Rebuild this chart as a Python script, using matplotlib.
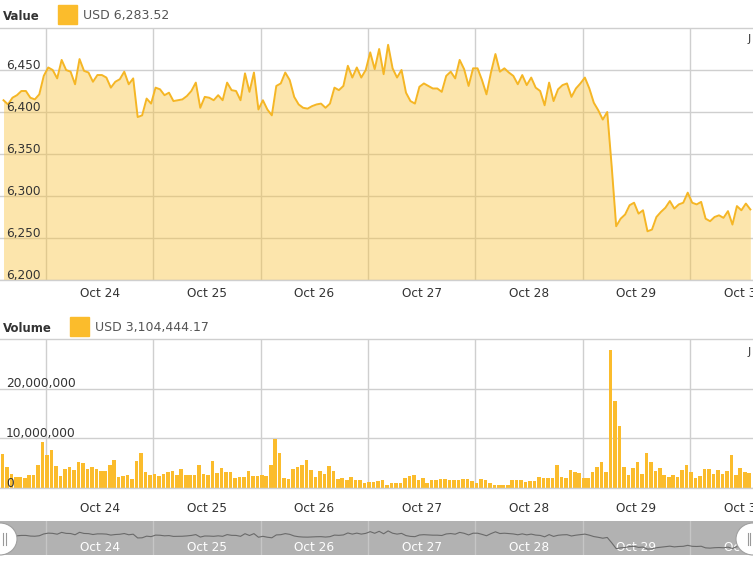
import numpy as np
import pandas as pd
import matplotlib
matplotlib.use("Agg")
import matplotlib.pyplot as plt
import matplotlib.dates as mdates
from matplotlib.patches import Rectangle, Ellipse
from matplotlib.lines import Line2D
from matplotlib.ticker import NullFormatter

# hourly BTC price (USD), Oct 23 14:30 -> Oct 30 13:30
price = [6414, 6409, 6417, 6420, 6425, 6425, 6417, 6415, 6421, 6443, 6453, 6450, 6440, 6462, 6450,
         6448, 6433, 6463, 6449, 6447, 6436, 6444, 6444, 6441, 6429, 6436, 6439, 6448, 6433, 6440,
         6394, 6396, 6416, 6410, 6429, 6427, 6420, 6423, 6413, 6414, 6415, 6419, 6425,
         6435, 6405, 6418, 6417, 6414, 6420, 6414, 6435, 6426, 6425, 6414, 6446, 6424, 6447, 6403,
         6414, 6403, 6396, 6431, 6434, 6447, 6438, 6418, 6409, 6405, 6404, 6407, 6409, 6410, 6405,
         6410, 6429, 6426, 6431, 6455, 6441, 6453, 6441, 6450, 6471, 6451,
         6475, 6445, 6480, 6452, 6441, 6450, 6423, 6413, 6410, 6430, 6434, 6431, 6428, 6428, 6424,
         6443, 6448, 6440, 6462, 6451, 6431, 6452, 6452, 6438, 6421, 6447, 6469, 6448, 6452, 6447,
         6443, 6433, 6444, 6432, 6441, 6429, 6425, 6408, 6435, 6413, 6427, 6432, 6434,
         6418, 6428, 6434, 6441, 6428, 6411, 6402, 6391, 6400, 6335, 6264,
         6273, 6278, 6289, 6292, 6279, 6283, 6258, 6260, 6275, 6281, 6286, 6294, 6285, 6290, 6292,
         6304, 6292, 6290, 6293, 6273, 6270, 6275, 6277, 6274, 6282, 6266, 6288, 6283, 6291, 6284]

# hourly volume, millions of USD
volume = [6.8, 4.3, 2.9, 2.2, 2.2, 2.0, 2.7, 2.7, 4.6, 9.3, 6.6, 7.6, 4.5, 2.4, 3.9, 4.3, 3.6, 5.3,
          5.1, 3.9, 4.3, 3.8, 3.4, 3.4, 4.7, 5.6, 2.2, 2.4, 2.6, 1.9, 5.5, 7.1, 3.2, 2.6, 2.9, 2.4,
          2.9, 3.2, 3.4, 2.7, 3.9, 2.6,
          2.6, 2.6, 4.6, 2.9, 2.7, 5.5, 3.1, 4.1, 3.2, 3.2, 2.0, 2.2, 2.2, 3.4, 2.4, 2.4, 2.6, 2.4,
          4.7, 9.9, 7.0, 2.0, 1.9, 3.9, 4.3, 4.7, 5.7, 3.7, 2.2, 3.4, 2.9, 4.5, 3.4, 1.9, 2.1, 1.6,
          2.2, 1.6, 1.6, 1.0, 1.2, 1.2,
          1.4, 1.7, 0.7, 1.1, 1.1, 1.1, 2.0, 2.4, 2.6, 1.6, 2.1, 1.1, 1.7, 1.7, 1.9, 1.9, 1.6, 1.6,
          1.6, 1.8, 1.9, 1.5, 1.1, 1.9, 1.6, 1.1, 0.7, 0.7, 0.7, 0.7, 1.6, 1.6, 1.6, 1.2, 1.4, 1.4,
          2.2, 2.1, 2.0, 2.0, 4.6, 2.2,
          2.1, 3.7, 3.2, 3.0, 2.1, 2.1, 3.2, 4.3, 5.3, 3.2, 27.8, 17.6, 12.4, 4.3, 2.6, 4.1, 5.3, 2.9,
          7.1, 5.3, 3.4, 4.1, 2.6, 2.2, 2.7, 2.2, 3.7, 4.6, 3.2, 2.1, 2.5, 3.9, 3.9, 2.8, 3.7, 2.9,
          3.4, 6.6, 2.7, 4.1, 3.2, 3.1]

price_ticks = [6200, 6250, 6300, 6350, 6400, 6450]
volume_ticks = [0, 10_000_000, 20_000_000]
last_price = "USD 6,283.52"
last_volume = "USD 3,104,444.17"

times = pd.date_range("2018-10-23 14:30", periods=len(price), freq="h")
t = mdates.date2num(times.to_pydatetime())
vol = np.array(volume) * 1e6

LINE = "#f5b625"
BAR = "#fbbc2c"
GRID = "#cfcfcf"
TXT = "#333333"

W, H = 753, 562
fig = plt.figure(figsize=(W / 100, H / 100), dpi=100)


def box(x0, y0, x1, y1):
    return [x0 / W, 1 - y1 / H, (x1 - x0) / W, (y1 - y0) / H]


midnight = pd.Timestamp("2018-10-24")
px_h = 4.472
xmin = mdates.date2num((midnight - pd.Timedelta(hours=46 / px_h)).to_pydatetime())
xmax = mdates.date2num((midnight + pd.Timedelta(hours=(W - 46) / px_h)).to_pydatetime())


def style_time(ax, pad, color=TXT, gridcolor=GRID):
    ax.set_xlim(xmin, xmax)
    ax.xaxis.set_major_locator(mdates.DayLocator())
    ax.xaxis.set_major_formatter(NullFormatter())
    ax.xaxis.set_minor_locator(mdates.HourLocator(byhour=12))
    ax.xaxis.set_minor_formatter(mdates.DateFormatter("%b %d"))
    ax.tick_params(axis="x", which="both", length=0)
    ax.tick_params(axis="x", which="minor", pad=pad, labelsize=8.7, labelcolor=color)
    ax.grid(True, axis="x", which="major", color=gridcolor, lw=1)
    ax.set_yticks([])


def style_panel(ax):
    for s in ("left", "right"):
        ax.spines[s].set_visible(False)
    for s in ("top", "bottom"):
        ax.spines[s].set_color(GRID)
        ax.spines[s].set_linewidth(1)
    ax.set_axisbelow(True)


# price panel
ax1 = fig.add_axes(box(0, 28, W, 280))
style_panel(ax1)
style_time(ax1, pad=5)
ax1.set_ylim(6200, 6500)
ax1.set_yticks(price_ticks)
ax1.tick_params(axis="y", length=0, labelleft=False)
ax1.grid(True, axis="y", color=GRID, lw=1)
ax1.fill_between(t, price, 6200, color="#f8c13a", alpha=0.42, lw=0, zorder=2)
ax1.plot(t, price, color=LINE, lw=1.4, zorder=3)
for v in price_ticks:
    ax1.annotate(f"{v:,}", xy=(0, v), xycoords=("axes fraction", "data"),
                 xytext=(4.3, 1), textcoords="offset points", va="baseline",
                 fontsize=8.7, color=TXT, zorder=5)

# volume panel
ax2 = fig.add_axes(box(0, 339, W, 488))
style_panel(ax2)
style_time(ax2, pad=9.8)
ax2.set_ylim(0, 30_000_000)
ax2.set_yticks(volume_ticks)
ax2.tick_params(axis="y", length=0, labelleft=False)
ax2.grid(True, axis="y", color=GRID, lw=1)
ax2.bar(t - 0.25 / 24, vol, width=0.8 / 24, color=BAR, lw=0, zorder=2)
for v in volume_ticks:
    ax2.annotate(f"{v:,}", xy=(0, v), xycoords=("axes fraction", "data"),
                 xytext=(4.3, 1), textcoords="offset points", va="baseline",
                 fontsize=8.8, color=TXT, zorder=5)

# navigator strip
ax3 = fig.add_axes(box(0, 521, W, 555))
ax3.set_facecolor("#b2b2b2")
for s in ax3.spines.values():
    s.set_visible(False)
style_time(ax3, pad=-10.3, color="white", gridcolor="#c6c6c6")
ax3.set_ylim(6186, 6601)
ax3.plot(t, price, color="#6a6a6a", lw=0.8)

# headers
fig.text(3 / W, 1 - 17 / H, "Value", fontsize=8.5, weight="bold", color=TXT, va="center")
fig.patches.append(Rectangle((58 / W, 1 - 24 / H), 19 / W, 19 / H,
                             transform=fig.transFigure, color=BAR))
fig.text(83 / W, 1 - 16 / H, last_price, fontsize=9, color="#555555", va="center")
fig.text(3 / W, 1 - 328 / H, "Volume", fontsize=8.5, weight="bold", color=TXT, va="center")
fig.patches.append(Rectangle((70 / W, 1 - 336 / H), 19 / W, 19 / H,
                             transform=fig.transFigure, color=BAR))
fig.text(95 / W, 1 - 327 / H, last_volume, fontsize=9, color="#555555", va="center")
fig.text(748 / W, 1 - 39 / H, "J", fontsize=8, color=TXT, va="center")
fig.text(748 / W, 1 - 352 / H, "J", fontsize=8, color=TXT, va="center")

# navigator handles
for cx, marks in ((0, (3, 5.5)), (W, (747.5, 750))):
    fig.patches.append(Ellipse((cx / W, 1 - 539 / H), 34 / W, 32 / H,
                               transform=fig.transFigure, facecolor="white",
                               edgecolor="#a0a0a0", lw=0.8))
    for mx in marks:
        fig.lines.append(Line2D([mx / W, mx / W], [1 - 533 / H, 1 - 545 / H],
                                transform=fig.transFigure, color="#999999", lw=0.8))

fig.savefig("out.png", dpi=100)
